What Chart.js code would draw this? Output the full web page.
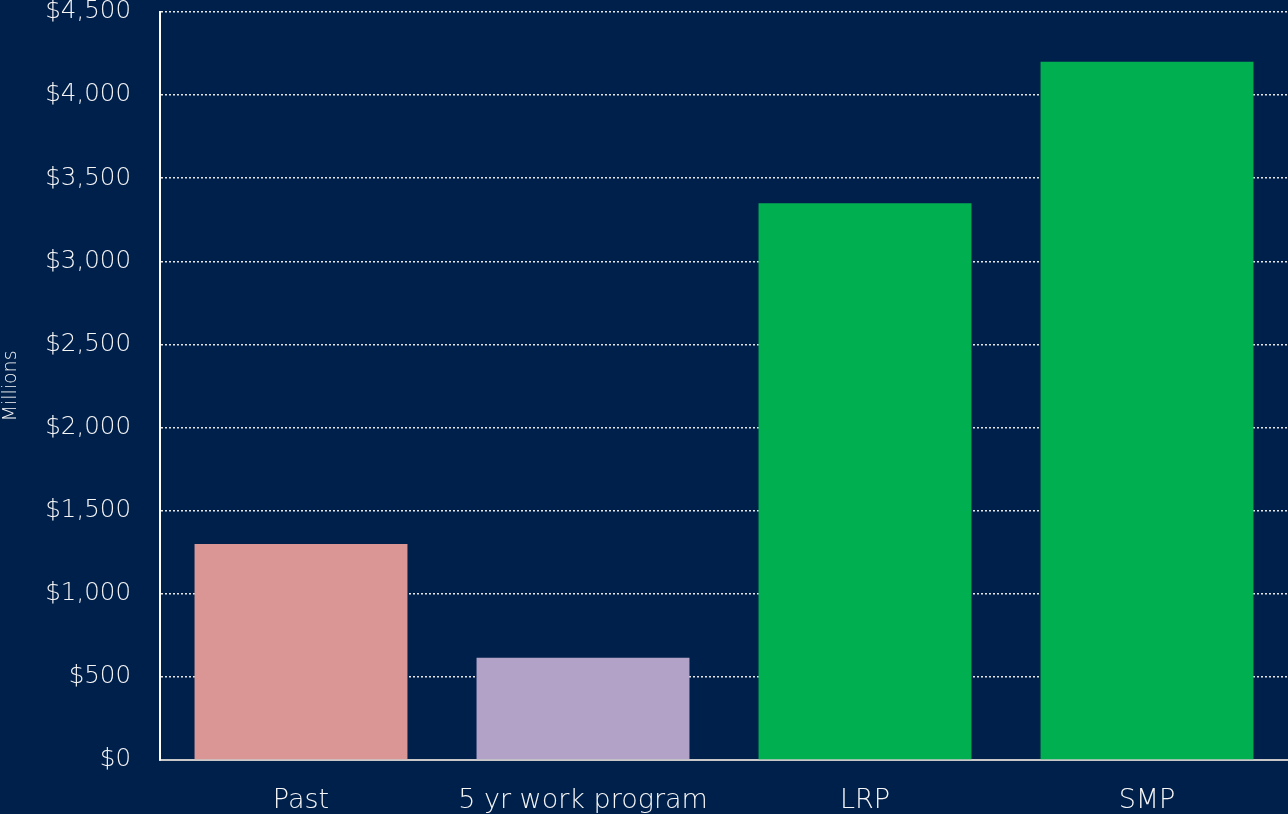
<!DOCTYPE html>
<html>
<head>
<meta charset="utf-8">
<script src="https://cdn.jsdelivr.net/npm/chart.js@4"></script>
<style>
html,body{margin:0;padding:0;background:#00204C;}
#wrap{width:1288px;height:814px;}
</style>
</head>
<body>
<div id="wrap"><canvas id="c" width="1288" height="814"></canvas></div>
<script>
const categories = ["Past", "5 yr work program", "LRP", "SMP"];
const values = [1300, 615, 3350, 4200];
const barColors = ["#D99694", "#B3A2C7", "#00B050", "#00B050"];
const yTitle = "Millions";
const yMin = 0, yMax = 4500, yStep = 500;

const FONT = "'DejaVu Sans', sans-serif";
const TXT = "#F6F6F6";

new Chart(document.getElementById('c'), {
  type: 'bar',
  data: {
    labels: categories,
    datasets: [{
      data: values,
      backgroundColor: barColors,
      borderWidth: 0,
      categoryPercentage: 1,
      barPercentage: 0.755
    }]
  },
  options: {
    responsive: false,
    animation: false,
    layout: { padding: { top: 12, right: 0, left: 0, bottom: 0 } },
    plugins: { legend: { display: false }, tooltip: { enabled: false } },
    scales: {
      x: {
        grid: { display: false, drawTicks: false },
        border: { display: true, color: '#C8C8C8', width: 2 },
        ticks: { color: TXT, padding: 25, font: { family: FONT, size: 27, weight: 200 }, maxRotation: 0 },
        afterFit: s => { s.height = 54; }
      },
      y: {
        min: yMin, max: yMax,
        grid: { color: '#E6E6E6', lineWidth: 1.5, drawTicks: false },
        border: { display: true, color: '#FFFFFF', width: 2, dash: [2, 2] },
        ticks: {
          stepSize: yStep, color: TXT, padding: 29,
          font: { family: FONT, size: 24.5, weight: 200 },
          callback: v => '$' + v.toLocaleString('en-US')
        },
        title: { display: true, text: yTitle, color: TXT, font: { family: FONT, size: 19, weight: 200 }, padding: { top: 0, bottom: 0 } },
        afterFit: s => { s.width = 160; s.paddingTop = 0; s.paddingBottom = 0; }
      }
    }
  }
});
</script>
</body>
</html>
